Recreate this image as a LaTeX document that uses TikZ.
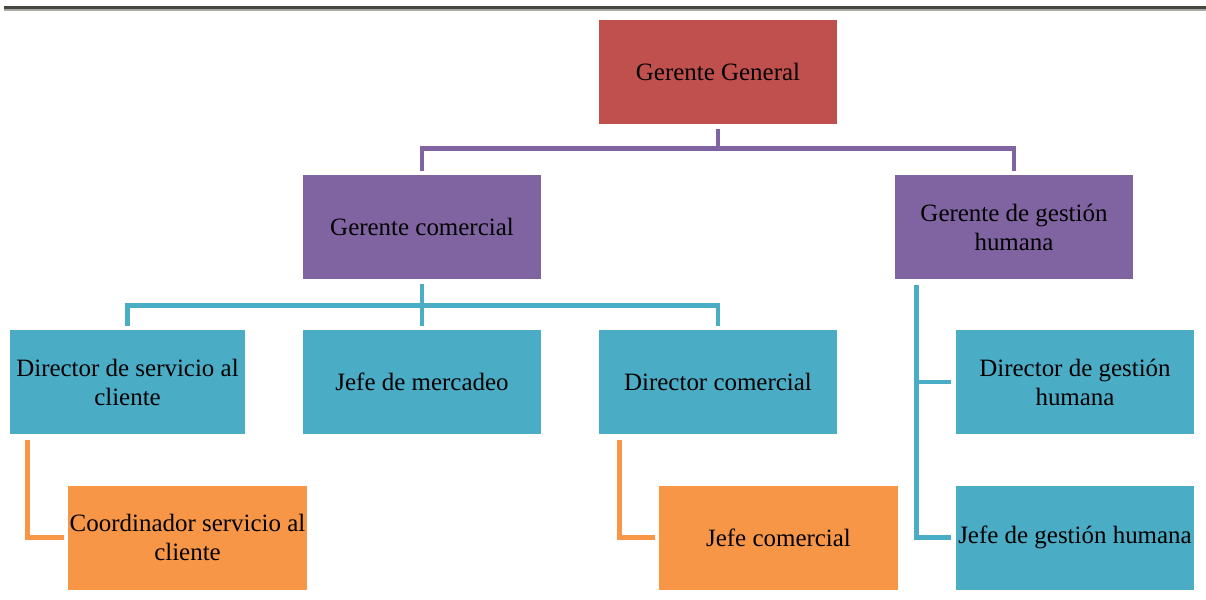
\documentclass[tikz,border=0pt]{standalone}
\usepackage{fontspec}
\setmainfont{Liberation Serif}
\usepackage{tikz}
\definecolor{redbox}{HTML}{C0504D}
\definecolor{purplebox}{HTML}{8064A2}
\definecolor{cyanbox}{HTML}{4BACC6}
\definecolor{orangebox}{HTML}{F79646}
\definecolor{ruledark}{HTML}{45463E}
\definecolor{rulelight}{HTML}{A8A8A4}

\begin{document}
\begin{tikzpicture}[x=0.02cm, y=-0.02cm,
		box/.style={minimum width=4.78cm, minimum height=2.08cm, inner sep=0pt, align=center,
			text=black, font=\fontsize{14.2}{16.5}\selectfont},
		gerente/.style={box, fill=redbox},
		mando/.style={box, fill=purplebox},
		area/.style={box, fill=cyanbox},
		apoyo/.style={box, fill=orangebox},
		link/.style={line width=2.8pt, line join=miter}]
		\useasboundingbox (0,0) rectangle (1206,599);
		\draw [ruledark, line width=1.2pt] (4,7.5) -- (1206,7.5);
		\draw [rulelight, line width=0.8pt] (4,10) -- (1206,10);

		\path (718,72) node [gerente] (gg) {Gerente General};
		\path (gg) ++(-296,155) node [mando] (gc) {Gerente comercial};
		\path (gg) ++(296,155) node [mando] (gh) {Gerente de gestión\\humana};

		\path (gc) ++(-294.5,155) node [area, minimum width=4.7cm] (dsc) {Director de servicio al\\cliente};
		\path (gc) ++(0,155) node [area] (jm) {Jefe de mercadeo};
		\path (gc) ++(296,155) node [area] (dc) {Director comercial};
		\path (gh) ++(61,155) node [area] (dgh) {Director de gestión\\humana};
		\path (dgh) ++(0,155.5) node [area] (jgh) {Jefe de gestión humana};

		\path (dsc) ++(60,155.5) node [apoyo] (csc) {Coordinador servicio al\\cliente};
		\path (dc) ++(60.5,155.5) node [apoyo] (jc) {Jefe comercial};

		\path (gg.south) ++(0,24) coordinate (gg-bus);
		\path (gc.south) ++(0,26) coordinate (gc-bus);
		\path (gh.south west) ++(22,6) coordinate (gh-stem);
		\path (dsc.south west) ++(18,6) coordinate (dsc-stem);
		\path (dc.south west) ++(21,6) coordinate (dc-stem);

		\draw [link, purplebox, shorten <=0.1cm, shorten >=0.08cm] (gg.south) -- (gg-bus) -| (gc.north);
		\draw [link, purplebox, shorten >=0.08cm] (gg-bus) -| (gh.north);
		\draw [link, cyanbox, shorten <=0.1cm, shorten >=0.08cm] (gc.south) -- (gc-bus) -| (dsc.north);
		\draw [link, cyanbox, shorten >=0.08cm] (gc-bus) -- (jm.north);
		\draw [link, cyanbox, shorten >=0.08cm] (gc-bus) -| (dc.north);
		\draw [link, cyanbox, shorten >=0.08cm] (gh-stem) |- (dgh.west);
		\draw [link, cyanbox, shorten >=0.08cm] (gh-stem) |- (jgh.west);
		\draw [link, orangebox, shorten >=0.08cm] (dsc-stem) |- (csc.west);
		\draw [link, orangebox, shorten >=0.08cm] (dc-stem) |- (jc.west);
	\end{tikzpicture}
\end{document}
